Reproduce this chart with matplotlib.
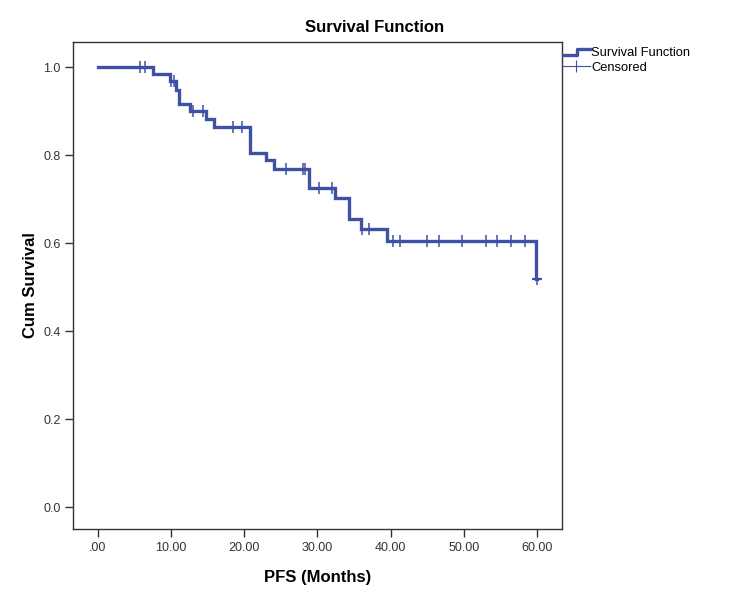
import numpy as np
import matplotlib
matplotlib.use("Agg")
import matplotlib.pyplot as plt
from matplotlib.lines import Line2D
from matplotlib.legend_handler import HandlerBase

plt.rcParams['font.family'] = ['Liberation Sans', 'DejaVu Sans']

# Kaplan-Meier steps (time of drop, survival after drop)
step_times = [0.0, 7.5, 9.9, 10.7, 11.1, 12.6, 14.75, 15.9, 20.8, 23.0, 24.0,
              28.9, 32.4, 34.3, 36.0, 39.5, 59.9]
step_surv = [1.0, 0.984, 0.968, 0.949, 0.917, 0.900, 0.881, 0.863, 0.805,
             0.788, 0.769, 0.725, 0.702, 0.654, 0.631, 0.604, 0.518]
end_time = 60.0

# censored observations
cens_times = [5.7, 6.5, 10.0, 10.4, 13.0, 14.3, 18.4, 19.7, 25.7, 28.0, 28.3,
              30.2, 32.0, 36.05, 37.1, 40.3, 41.3, 45.0, 46.6, 49.7, 53.0,
              54.5, 56.4, 58.4, 60.0]

xticks = [0, 10, 20, 30, 40, 50, 60]
xticklabels = ['.00', '10.00', '20.00', '30.00', '40.00', '50.00', '60.00']
yticks = [0.0, 0.2, 0.4, 0.6, 0.8, 1.0]

blue = '#3f51a6'

fig = plt.figure(figsize=(7.5, 6.01), dpi=100)
ax = fig.add_axes([0.0973, 0.1198, 0.652, 0.8102])

t = np.array(step_times + [end_time])
s = np.array(step_surv + [step_surv[-1]])
ax.step(t, s, where='post', color=blue, lw=2.4, solid_joinstyle='miter')

# y of censor marks = survival at that time
ct = np.array(cens_times)
idx = np.searchsorted(np.array(step_times), ct, side='right') - 1
cs = np.array(step_surv)[idx]
ax.plot(ct, cs, ls='none', marker='|', ms=8, mew=1.1, color=blue)
# last censored case sits at the end of the drop and shows as a cross
ax.plot(ct[-1:], cs[-1:], ls='none', marker='_', ms=7, mew=1.6, color=blue)

ax.set_xlim(-3.4, 63.4)
ax.set_ylim(-0.05, 1.057)
ax.set_xticks(xticks)
ax.set_xticklabels(xticklabels)
ax.set_yticks(yticks)
ax.set_yticklabels(['%.1f' % v for v in yticks])
ax.tick_params(direction='out', length=6, width=1, color='#333333',
               labelsize=9, labelcolor='#333333', pad=3)
for sp in ax.spines.values():
    sp.set_color('#333333')
    sp.set_linewidth(1.0)

ax.set_xlabel('PFS (Months)', fontsize=12, fontweight='bold', labelpad=12)
ax.set_ylabel('Cum Survival', fontsize=12, fontweight='bold', labelpad=4)
fig.text(0.5, 0.955, 'Survival Function', fontsize=12, fontweight='bold',
         ha='center', va='center')


class StepHandler(HandlerBase):
    def create_artists(self, legend, orig_handle, xdescent, ydescent,
                       width, height, fontsize, trans):
        xs = [-xdescent, -xdescent + width * 0.55, -xdescent + width * 0.55,
              -xdescent + width]
        ys = [height * 0.15, height * 0.15, height * 0.75, height * 0.75]
        ln = Line2D(xs, ys, color=blue, lw=2.4, transform=trans)
        return [ln]


h1 = Line2D([0], [0], color=blue, lw=2.4)
h2 = Line2D([0], [0], color=blue, lw=0.8, marker='|', ms=8, mew=0.8)
fig.legend([h1, h2], ['Survival Function', 'Censored'],
           handler_map={h1: StepHandler()},
           loc='upper left', bbox_to_anchor=(0.75, 0.922), frameon=False,
           fontsize=9.3, handlelength=2.1, handletextpad=0.1, labelspacing=0.2,
           borderaxespad=0, borderpad=0)

fig.savefig('out.png', dpi=100)
